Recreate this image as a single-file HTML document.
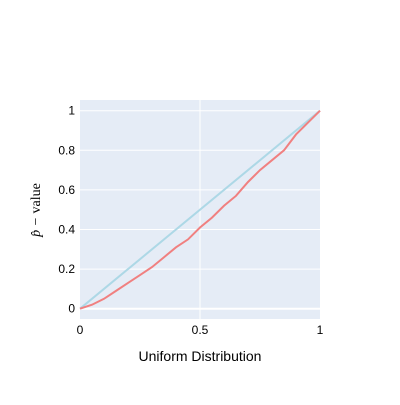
<!DOCTYPE html>
<html><head><meta charset="utf-8"><style>
body{margin:0;background:#fff;font-family:"Liberation Sans",sans-serif}
</style></head><body>
<svg width="400" height="400" xmlns="http://www.w3.org/2000/svg">
<rect x="80" y="100" width="240" height="219" fill="#e5ecf6"/>
<g id="grid"></g>
<g id="ticks" font-size="12" fill="#000"></g>
<path id="ref" fill="none" stroke="#add8e6" stroke-width="2"/>
<path id="emp" fill="none" stroke="#f08080" stroke-width="2"/>
<text x="200" y="361" text-anchor="middle" font-size="14">Uniform Distribution</text>
<text transform="translate(40,210) rotate(-90)" text-anchor="middle" font-size="14" font-family="Liberation Serif,serif" font-style="italic">p̂ − <tspan font-style="normal">value</tspan></text>
</svg>
<script>
const xs=[0,0.05,0.1,0.15,0.2,0.25,0.3,0.35,0.4,0.45,0.5,0.55,0.6,0.65,0.7,0.75,0.8,0.85,0.9,0.95,1];
const ys=[0,0.02,0.05,0.09,0.13,0.17,0.21,0.26,0.31,0.35,0.41,0.46,0.52,0.57,0.64,0.7,0.75,0.8,0.88,0.94,1];
const xTicks=[0,0.5,1];
const yTicks=[0,0.2,0.4,0.6,0.8,1];
const X=v=>80+v*240, Y=v=>308.7-v*198;
const ns='http://www.w3.org/2000/svg';
const g=document.getElementById('grid'),t=document.getElementById('ticks');
yTicks.forEach(v=>{
 const l=document.createElementNS(ns,'line');
 l.setAttribute('x1',80);l.setAttribute('x2',320);l.setAttribute('y1',Y(v));l.setAttribute('y2',Y(v));
 l.setAttribute('stroke','#fff');l.setAttribute('stroke-width',v===0?2:1);
 
 
 g.appendChild(l);
 const tx=document.createElementNS(ns,'text');
 tx.setAttribute('x',75);tx.setAttribute('y',Y(v)+4);tx.setAttribute('text-anchor','end');tx.textContent=String(v);
 
 
 t.appendChild(tx);
});
xTicks.forEach(v=>{
 if(v>0&&v<1){const l=document.createElementNS(ns,'line');
 l.setAttribute('x1',X(v));l.setAttribute('x2',X(v));l.setAttribute('y1',100);l.setAttribute('y2',319);
 l.setAttribute('stroke','#fff');
 
 
 g.appendChild(l);}
 const tx=document.createElementNS(ns,'text');
 tx.setAttribute('x',X(v));tx.setAttribute('y',334);tx.setAttribute('text-anchor','middle');tx.textContent=String(v);
 
 
 t.appendChild(tx);
});
document.getElementById('ref').setAttribute('d','M'+X(0)+','+Y(0)+'L'+X(1)+','+Y(1));
document.getElementById('emp').setAttribute('d',xs.map((x,i)=>(i?'L':'M')+X(x)+','+Y(ys[i])).join(''));
</script>
</body></html>
